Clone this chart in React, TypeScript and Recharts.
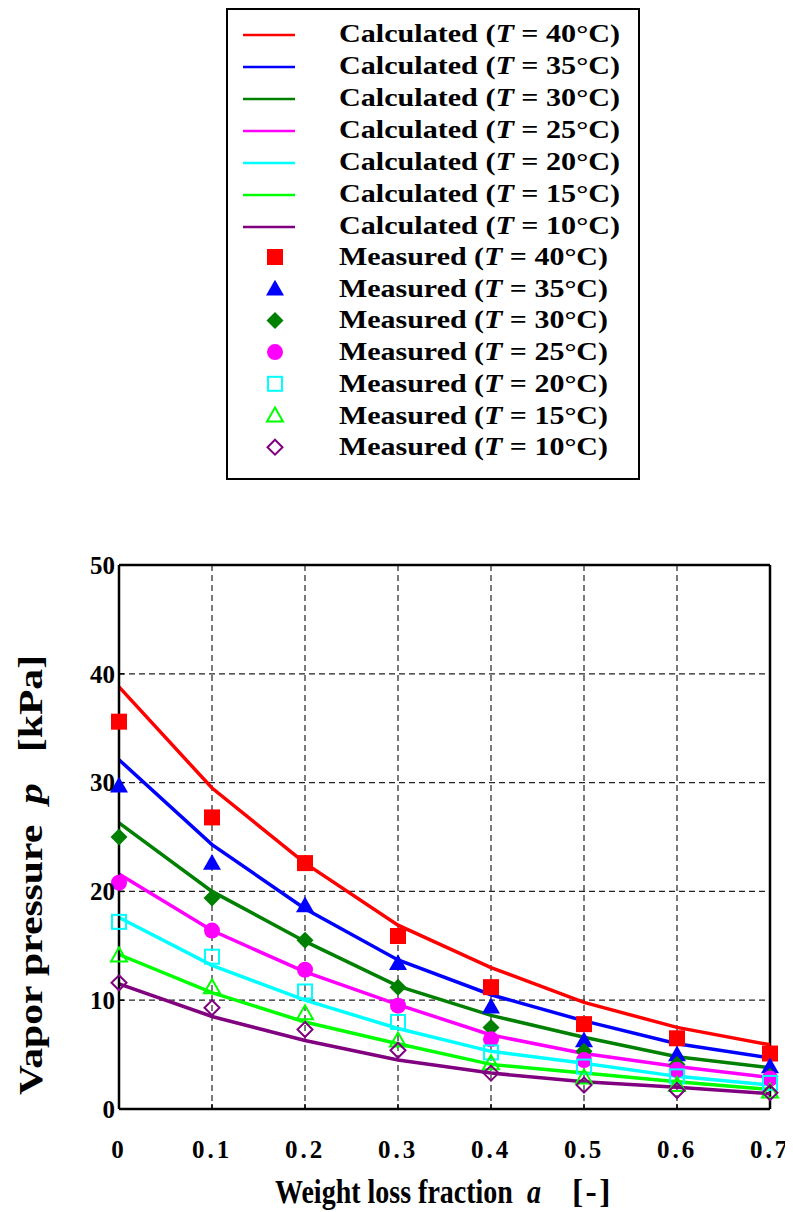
import { ComposedChart, Line, XAxis, YAxis, CartesianGrid, ReferenceLine } from "recharts";

// weight loss fraction a [-]
const FRACTIONS = [0, 0.1, 0.2, 0.3, 0.4, 0.5, 0.6, 0.7];
const X_TICKS = [0, 0.1, 0.2, 0.3, 0.4, 0.5, 0.6, 0.7];
const Y_TICKS = [0, 10, 20, 30, 40, 50];

const TEMPS = [40, 35, 30, 25, 20, 15, 10];
const COLORS = ["#ff0000", "#0000ff", "#008000", "#ff00ff", "#00ffff", "#00ff00", "#800080"];
const SHAPES = ["square", "triangle", "diamond", "circle", "square", "triangle", "diamond"];
const FILLED = [true, true, true, true, false, false, false];

// calculated vapor pressure p [kPa]
const CALC_40 = [38.8, 29.5, 22.6, 16.9, 13.0, 9.8, 7.5, 5.9];
const CALC_35 = [32.1, 24.3, 18.4, 13.7, 10.5, 8.1, 6.0, 4.7];
const CALC_30 = [26.3, 20.0, 15.4, 11.3, 8.6, 6.6, 4.8, 3.8];
const CALC_25 = [21.6, 16.4, 12.6, 9.6, 6.8, 5.1, 3.9, 2.9];
const CALC_20 = [17.6, 13.2, 10.0, 7.4, 5.3, 4.2, 3.0, 2.2];
const CALC_15 = [14.2, 10.7, 8.0, 6.0, 4.1, 3.3, 2.5, 1.8];
const CALC_10 = [11.5, 8.5, 6.3, 4.5, 3.3, 2.5, 2.0, 1.4];

// measured vapor pressure p [kPa]
const MEAS_40 = [35.6, 26.8, 22.6, 15.9, 11.2, 7.8, 6.5, 5.1];
const MEAS_35 = [29.7, 22.6, 18.7, 13.4, 9.4, 6.3, 5.0, 3.9];
const MEAS_30 = [25.0, 19.4, 15.5, 11.2, 7.5, 5.3, 4.1, 3.0];
const MEAS_25 = [20.8, 16.4, 12.8, 9.5, 6.4, 4.5, 3.6, 2.8];
const MEAS_20 = [17.2, 14.0, 10.8, 8.0, 5.2, 3.9, 3.0, 2.4];
const MEAS_15 = [14.1, 11.2, 8.8, 6.3, 4.2, 2.9, 2.2, 1.6];
const MEAS_10 = [11.6, 9.3, 7.3, 5.4, 3.3, 2.2, 1.7, 1.5];

const CALCULATED = [CALC_40, CALC_35, CALC_30, CALC_25, CALC_20, CALC_15, CALC_10];
const MEASURED = [MEAS_40, MEAS_35, MEAS_30, MEAS_25, MEAS_20, MEAS_15, MEAS_10];

const data = FRACTIONS.map((a, i) => {
  const row: Record<string, number> = { a };
  TEMPS.forEach((t, k) => {
    row[`c${t}`] = CALCULATED[k][i];
    row[`m${t}`] = MEASURED[k][i];
  });
  return row;
});

const SERIF = "'Liberation Serif', 'Times New Roman', serif";
const NB = "\u00a0";

function Marker({ shape, color, filled, cx, cy }: {
  shape: string; color: string; filled: boolean; cx: number; cy: number;
}) {
  const fill = filled ? color : "none";
  const stroke = filled ? "none" : color;
  const sw = filled ? 0 : 2;
  const s = filled ? 8 : 7;
  if (shape === "square") {
    return <rect x={cx - s} y={cy - s} width={2 * s} height={2 * s} fill={fill} stroke={stroke} strokeWidth={sw} />;
  }
  if (shape === "triangle") {
    const h = s + 1;
    return (
      <polygon
        points={`${cx},${cy - h} ${cx + h},${cy + h * 0.75} ${cx - h},${cy + h * 0.75}`}
        fill={fill} stroke={stroke} strokeWidth={sw}
      />
    );
  }
  if (shape === "diamond") {
    const d = s + 0.5;
    return (
      <polygon
        points={`${cx},${cy - d} ${cx + d},${cy} ${cx},${cy + d} ${cx - d},${cy}`}
        fill={fill} stroke={stroke} strokeWidth={sw}
      />
    );
  }
  return <circle cx={cx} cy={cy} r={s} fill={fill} stroke={stroke} strokeWidth={sw} />;
}

function LegendBox() {
  const textStyle = { fontFamily: SERIF, fontWeight: 700, fontSize: 26 };
  return (
    <svg width={414} height={472} style={{ position: "absolute", left: 218, top: 0 }}>
      <rect x={1} y={1} width={412} height={470} fill="#fff" stroke="#000" strokeWidth={2} />
      {TEMPS.map((t, k) => {
        const y = 27 + k * 32;
        return (
          <g key={`c${t}`}>
            <line x1={17} x2={69} y1={y} y2={y} stroke={COLORS[k]} strokeWidth={2.5} />
            <text x={113} y={y + 7} style={textStyle} textLength={281} lengthAdjust="spacingAndGlyphs">
              Calculated (<tspan fontStyle="italic">T</tspan> = {t}°C)
            </text>
          </g>
        );
      })}
      {TEMPS.map((t, k) => {
        const y = 249 + k * 31.7;
        return (
          <g key={`m${t}`}>
            <Marker shape={SHAPES[k]} color={COLORS[k]} filled={FILLED[k]} cx={49} cy={y} />
            <text x={113} y={y + 8} style={textStyle} textLength={269} lengthAdjust="spacingAndGlyphs">
              Measured (<tspan fontStyle="italic">T</tspan> = {t}°C)
            </text>
          </g>
        );
      })}
    </svg>
  );
}

const tickStyle = { fontFamily: SERIF, fontWeight: 700, fontSize: 25, fill: "#000" };
const titleStyle = { fontFamily: SERIF, fontWeight: 700, fontSize: 28 };

function XTitle() {
  return (
    <g>
      <text transform="translate(267,1195) scale(1,1.18)" style={titleStyle}>Weight loss fraction</text>
      <text transform="translate(519,1195) scale(1,1.18)" style={{ ...titleStyle, fontStyle: "italic" }}>a</text>
      <text transform="translate(564,1195) scale(1.2,1.18)" style={{ ...titleStyle, letterSpacing: 2 }}>[-]</text>
    </g>
  );
}

export default function App() {
  return (
    <div style={{ position: "relative", width: 785, height: 1204 }}>
      <ComposedChart width={785} height={1204} data={data} margin={{ top: 557, right: 23, bottom: 3, left: 31 }}>
        <CartesianGrid stroke="#222" strokeWidth={1.2} strokeDasharray="6 4" />
        <XAxis
          dataKey="a" type="number" domain={[0, 0.7]} ticks={X_TICKS} interval={0}
          height={100} tickSize={-5} tickMargin={36}
          tickFormatter={(v: number) => (v === 0 ? "0" : v.toFixed(1))}
          tick={{ ...tickStyle, letterSpacing: 3 }}
          axisLine={{ stroke: "#000", strokeWidth: 2.5 }}
          tickLine={{ stroke: "#000", strokeWidth: 1.5 }}
          label={{ content: () => <XTitle /> }}
        />
        <YAxis
          type="number" domain={[0, 50]} ticks={Y_TICKS} interval={0}
          width={80} tickSize={-5} tickMargin={9}
          tick={tickStyle}
          axisLine={{ stroke: "#000", strokeWidth: 2.5 }}
          tickLine={{ stroke: "#000", strokeWidth: 1.5 }}
          label={{
            content: () => (
              <text x={34} y={867} textAnchor="middle" transform="rotate(-90, 34, 867)"
                textLength={440} lengthAdjust="spacingAndGlyphs"
                style={{ fontFamily: SERIF, fontWeight: 700, fontSize: 34 }}>
                {`Vapor pressure${NB}${NB}`}<tspan fontStyle="italic">p</tspan>{`${NB}${NB}${NB}[kPa]`}
              </text>
            ),
          }}
        />
        <ReferenceLine y={50} stroke="#000" strokeWidth={2.5} />
        <ReferenceLine x={0.7} stroke="#000" strokeWidth={2.5} />
        {TEMPS.map((t, k) => (
          <Line
            key={`c${t}`} type="linear" dataKey={`c${t}`} stroke={COLORS[k]} strokeWidth={3.5}
            dot={false} activeDot={false} isAnimationActive={false}
          />
        ))}
        {TEMPS.map((t, k) => (
          <Line
            key={`m${t}`} type="linear" dataKey={`m${t}`} stroke="none" strokeWidth={0}
            activeDot={false} isAnimationActive={false}
            dot={(p: any) => (
              <Marker key={p.key ?? `${t}-${p.index}`} shape={SHAPES[k]} color={COLORS[k]}
                filled={FILLED[k]} cx={p.cx} cy={p.cy} />
            )}
          />
        ))}
      </ComposedChart>
      <LegendBox />
    </div>
  );
}
